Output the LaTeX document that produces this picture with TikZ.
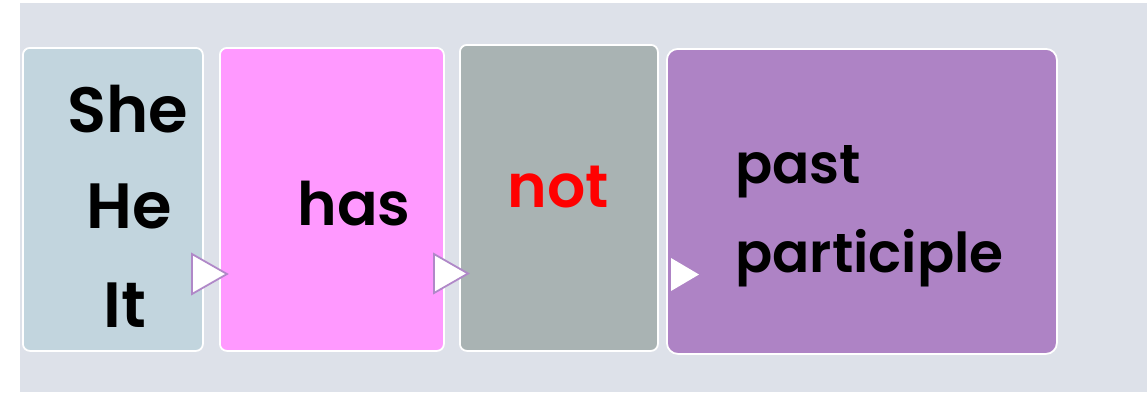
\documentclass[tikz,border=0pt]{standalone}
\usepackage{fontspec}
\setmainfont{Poppins}[BoldFont={Poppins SemiBold}]
\definecolor{bgc}{HTML}{DDE1E9}
\definecolor{cone}{HTML}{C2D5DE}
\definecolor{ctwo}{HTML}{FF99FF}
\definecolor{cthree}{HTML}{A9B3B3}
\definecolor{cfour}{HTML}{AE83C5}
\definecolor{triline}{HTML}{B088C8}
\begin{document}
\begin{tikzpicture}[x=1pt,y=-1pt,
  box/.style={draw=white, line width=1.8pt, rounded corners=7pt, anchor=north west, inner sep=0pt},
  word/.style={text=black, inner sep=0pt, anchor=base},
  big/.style={font=\bfseries\fontsize{64}{64}\selectfont},
  mid/.style={font=\bfseries\fontsize{60}{60}\selectfont},
  small/.style={font=\bfseries\fontsize{55}{55}\selectfont},
  tri/.style={draw=triline, fill=white, line width=1.8pt, line join=miter}]
\useasboundingbox (0,0) rectangle (1147,392);
\fill[bgc] (20,3) rectangle (1147,392);
% boxes
\node[box, fill=cone, minimum width=180pt, minimum height=303pt] (b1) at (22,47) {};
\node[box, fill=ctwo, minimum width=224pt, minimum height=303pt] (b2) at (219,47) {};
\node[box, fill=cthree, minimum width=198pt, minimum height=306pt] (b3) at (459,44) {};
\node[box, fill=cfour, minimum width=390pt, minimum height=305pt, rounded corners=11pt] (b4) at (666,48) {};
% triangles
\draw[tri] (192,254) -- (227,274) -- (192,294) -- cycle;
\draw[tri] (434,254) -- (468,273.5) -- (434,293) -- cycle;
\fill[white] (671,258) -- (699,274.5) -- (671,291) -- cycle;
% texts
\node[word, big] (she) at (128,132) {She};
\node[word, big] (he) at (129,228) {He};
\node[word, big] (it) at (125,327) {It};
\node[word, mid] (has) at (354,225) {has};
\node[word, mid, text=red] (not) at (558,207) {not};
\node[word, small, anchor=base west] (past) at (735,183) {past};
\node[word, small, anchor=base west] (part) at (735,272) {participle};
\end{tikzpicture}
\end{document}
